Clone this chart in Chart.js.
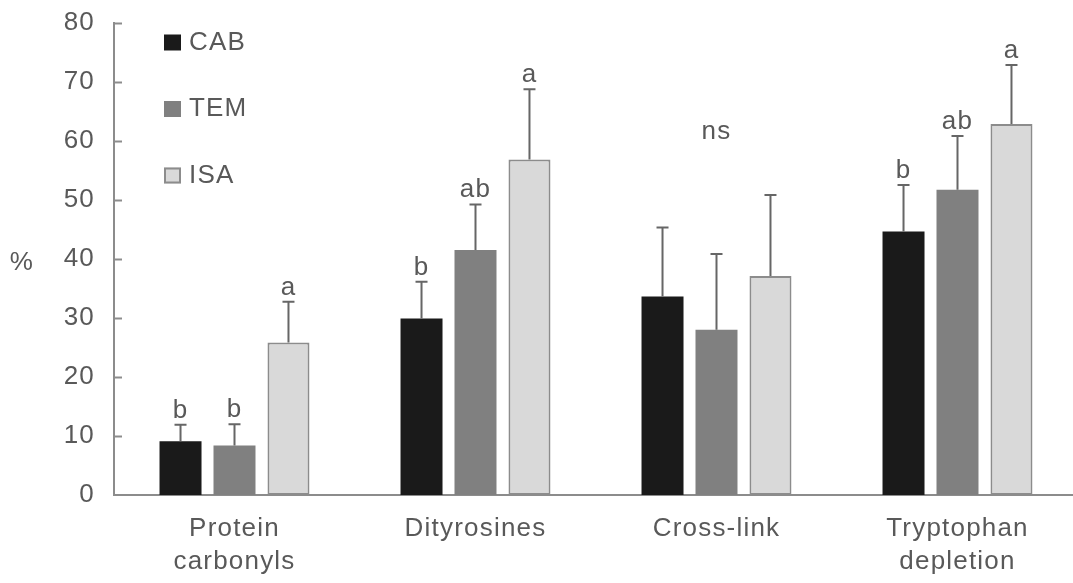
<!DOCTYPE html>
<html>
<head>
<meta charset="utf-8">
<script src="https://cdn.jsdelivr.net/npm/chart.js@4"></script>
<style>
  html, body { margin: 0; padding: 0; background: #fff; overflow: hidden; }
  #wrap { width: 1080px; height: 583px; position: relative; }
</style>
</head>
<body>
<div id="wrap"><canvas id="oxChart"></canvas></div>
<script>
const categories = [['Protein', 'carbonyls'], 'Dityrosines', 'Cross-link', ['Tryptophan', 'depletion']];
const seriesNames = ['CAB', 'TEM', 'ISA'];

const cabValues = [9.1, 29.9, 33.6, 44.6];
const cabErrors = [2.8, 6.2, 11.7, 7.9];
const temValues = [8.4, 41.5, 28.0, 51.7];
const temErrors = [3.6, 7.7, 12.8, 9.1];
const isaValues = [25.8, 56.8, 37.1, 62.8];
const isaErrors = [6.9, 11.9, 13.7, 10.0];

const cabLetters = ['b', 'b', '', 'b'];
const temLetters = ['b', 'ab', '', 'ab'];
const isaLetters = ['a', 'a', '', 'a'];
const groupNotes = ['', '', 'ns', ''];

const yTicks = [0, 10, 20, 30, 40, 50, 60, 70, 80];

const textColor = '#595959';
const axisColor = '#8c8c8c';
const FONT = '"Liberation Sans", Arial, sans-serif';
const FONT_SIZE = 26;
const SPACING = '1.2px';

// the source text is a little wider than plain Arial
const spacingPlugin = {
  id: 'spacing',
  beforeLayout(chart) { chart.ctx.letterSpacing = SPACING; },
  beforeDraw(chart) { chart.ctx.letterSpacing = SPACING; }
};

// error bars, letters, tick marks, legend and the "%" label
const extrasPlugin = {
  id: 'extras',
  afterDatasetsDraw(chart) {
    const ctx = chart.ctx;
    const y = chart.scales.y;
    const area = chart.chartArea;
    ctx.save();
    ctx.letterSpacing = SPACING;
    ctx.font = FONT_SIZE + 'px ' + FONT;

    chart.data.datasets.forEach((ds, i) => {
      const meta = chart.getDatasetMeta(i);
      meta.data.forEach((bar, j) => {
        const top = y.getPixelForValue(ds.data[j] + ds.errors[j]);
        ctx.strokeStyle = '#666666';
        ctx.lineWidth = 2;
        ctx.beginPath();
        ctx.moveTo(bar.x, bar.y);
        ctx.lineTo(bar.x, top);
        ctx.moveTo(bar.x - 6, top);
        ctx.lineTo(bar.x + 6, top);
        ctx.stroke();

        if (ds.letters[j]) {
          ctx.fillStyle = textColor;
          ctx.textAlign = 'center';
          ctx.textBaseline = 'alphabetic';
          ctx.fillText(ds.letters[j], bar.x, top - 7);
        }
      });
    });

    // group notes (ns)
    const x = chart.scales.x;
    groupNotes.forEach((note, j) => {
      if (!note) return;
      ctx.fillStyle = textColor;
      ctx.textAlign = 'center';
      ctx.textBaseline = 'middle';
      ctx.fillText(note, x.getPixelForValue(j), y.getPixelForValue(61.5));
    });

    // inside tick marks on the y axis
    ctx.strokeStyle = axisColor;
    ctx.lineWidth = 2;
    y.ticks.forEach((t, k) => {
      const py = Math.round(y.getPixelForTick(k)) + 0.5;
      if (t.value === 0) return;
      ctx.beginPath();
      ctx.moveTo(area.left, py);
      ctx.lineTo(area.left + 8, py);
      ctx.stroke();
    });

    // legend
    chart.data.datasets.forEach((ds, i) => {
      const cy = 42.5 + i * 66.5;
      ctx.fillStyle = ds.backgroundColor;
      ctx.fillRect(164, cy - 8, 17, 16);
      if (ds.borderWidth) {
        ctx.strokeStyle = ds.borderColor;
        ctx.lineWidth = 2;
        ctx.strokeRect(165, cy - 7, 15, 14);
      }
      ctx.fillStyle = textColor;
      ctx.textAlign = 'left';
      ctx.textBaseline = 'middle';
      ctx.fillText(ds.label, 189, cy);
    });

    // y axis title, level with the 40 tick
    ctx.fillStyle = textColor;
    ctx.textAlign = 'center';
    ctx.textBaseline = 'middle';
    ctx.fillText('%', 22, y.getPixelForValue(40) + 4);

    ctx.restore();
  }
};

function makeDataset(label, data, errors, letters, color, border, bw) {
  return {
    label,
    data,
    errors,
    letters,
    backgroundColor: color,
    borderColor: border,
    borderWidth: bw,
    borderSkipped: false,
    categoryPercentage: 0.672,
    barPercentage: 0.778,
  };
}

new Chart(document.getElementById('oxChart'), {
  type: 'bar',
  data: {
    labels: categories,
    datasets: [
      makeDataset(seriesNames[0], cabValues, cabErrors, cabLetters, '#1a1a1a', '#1a1a1a', 0),
      makeDataset(seriesNames[1], temValues, temErrors, temLetters, '#808080', '#808080', 0),
      makeDataset(seriesNames[2], isaValues, isaErrors, isaLetters, '#d9d9d9', '#8c8c8c', 2),
    ]
  },
  options: {
    responsive: true,
    maintainAspectRatio: false,
    animation: false,
    layout: { padding: { top: 22.5, right: 2, left: 0, bottom: 0 } },
    plugins: {
      legend: { display: false },
      tooltip: { enabled: false }
    },
    scales: {
      y: {
        min: 0,
        max: 80,
        afterFit: (s) => {
          s.width = 114;
          // tick padding would otherwise push the top of the plot down
          s.paddingTop = 0;
          s.paddingBottom = 0;
        },
        afterBuildTicks: (s) => { s.ticks = yTicks.map(v => ({ value: v })); },
        grid: { display: false, drawTicks: false },
        border: { display: true, color: axisColor, width: 2 },
        ticks: {
          padding: 19,
          color: textColor,
          font: { family: FONT, size: FONT_SIZE }
        }
      },
      x: {
        afterFit: (s) => { s.height = 88; },
        grid: { display: false, drawTicks: false },
        border: { display: true, color: axisColor, width: 2 },
        ticks: {
          padding: 17,
          color: textColor,
          maxRotation: 0,
          font: { family: FONT, size: FONT_SIZE, lineHeight: 1.27 }
        }
      }
    }
  },
  plugins: [spacingPlugin, extrasPlugin]
});
</script>
</body>
</html>
